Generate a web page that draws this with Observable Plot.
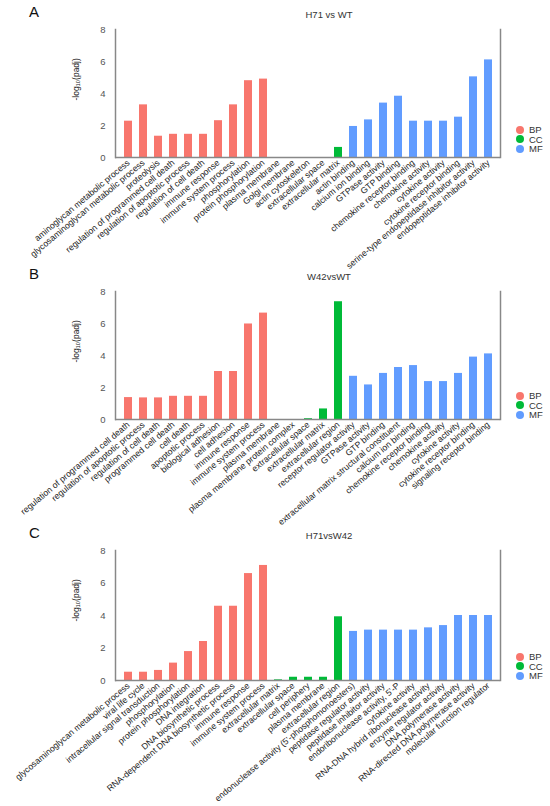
<!DOCTYPE html>
<html><head><meta charset="utf-8">
<script src="https://cdn.jsdelivr.net/npm/d3@7"></script>
<script src="https://cdn.jsdelivr.net/npm/@observablehq/plot@0.6"></script>
<style>
body{margin:0;background:#fff;font-family:Arial,"Liberation Sans",sans-serif}
#fig{width:550px;position:relative}
.panel{position:relative;width:550px}
.panel svg{overflow:visible;position:relative}
.letter{position:absolute;left:29px;top:3px;font-size:15px;color:#111;z-index:2}
.title{position:absolute;top:9px;font-size:9.5px;color:#333;transform:translateX(-50%);white-space:nowrap;z-index:2}
.legend{position:absolute;left:516px;font-size:9.5px;color:#333;z-index:2}
.legend div{height:9.5px;line-height:9.5px;display:flex;align-items:center}
.legend span.c{display:inline-block;width:8px;height:8px;border-radius:50%;margin-right:5px}
</style></head><body><div id="fig"></div>
<script>
const groupNames = ["BP", "CC", "MF"];
const groupColors = ["#F8766D", "#00BA38", "#619CFF"];
const yTicks = [0, 2, 4, 6, 8];
const yLabel = "-log\u2081\u2080(padj)";

// Panel A: H71 vs WT
const titleA = "H71 vs WT";
const termsA = ["aminoglycan metabolic process","glycosaminoglycan metabolic process","proteolysis","regulation of programmed cell death","regulation of apoptotic process","regulation of cell death","immune response","immune system process","phosphorylation","protein phosphorylation",
"plasma membrane","Golgi membrane","actin cytoskeleton","extracellular space","extracellular matrix",
"actin binding","calcium ion binding","GTPase activity","GTP binding","chemokine receptor binding","chemokine activity","cytokine activity","cytokine receptor binding","serine-type endopeptidase inhibitor activity","endopeptidase inhibitor activity"];
const valuesA = [2.27,3.29,1.33,1.45,1.45,1.45,2.3,3.29,4.8,4.9, 0,0,0,0,0.63, 1.94,2.35,3.4,3.83,2.27,2.27,2.27,2.52,5.04,6.1];
const groupA = ["BP","BP","BP","BP","BP","BP","BP","BP","BP","BP","CC","CC","CC","CC","CC","MF","MF","MF","MF","MF","MF","MF","MF","MF","MF"];

// Panel B: W42vsWT
const titleB = "W42vsWT";
const termsB = ["regulation of programmed cell death","regulation of apoptotic process","regulation of cell death","programmed cell death","cell death","apoptotic process","biological adhesion","cell adhesion","immune response","immune system process",
"plasma membrane","plasma membrane protein complex","extracellular space","extracellular matrix","extracellular region",
"receptor regulator activity","GTPase activity","GTP binding","extracellular matrix structural constituent","calcium ion binding","chemokine receptor binding","chemokine activity","cytokine activity","cytokine receptor binding","signaling receptor binding"];
const valuesB = [1.37,1.35,1.35,1.45,1.45,1.45,3.0,3.0,5.97,6.65, 0,0,0.05,0.66,7.36, 2.7,2.16,2.88,3.25,3.37,2.37,2.37,2.88,3.9,4.1];
const groupB = groupA;

// Panel C: H71vsW42
const titleC = "H71vsW42";
const termsC = ["glycosaminoglycan metabolic process","viral life cycle","intracellular signal transduction","phosphorylation","protein phosphorylation","DNA integration","DNA biosynthetic process","RNA-dependent DNA biosynthetic process","immune response","immune system process",
"extracellular matrix","extracellular space","cell periphery","plasma membrane","extracellular region",
"endonuclease activity (5'-phosphomonoesters)","peptidase regulator activity","peptidase inhibitor activity","endoribonuclease activity, 5'-P","cytokine activity","RNA-DNA hybrid ribonuclease activity","enzyme regulator activity","DNA polymerase activity","RNA-directed DNA polymerase activity","molecular function regulator"];
const valuesC = [0.51,0.51,0.62,1.07,1.78,2.4,4.57,4.57,6.58,7.08, 0.04,0.2,0.2,0.2,3.92, 3.02,3.1,3.1,3.1,3.1,3.24,3.38,4.0,4.0,4.0];
const groupC = groupA;

const panels = [
  {letter:"A", title:titleA, terms:termsA, values:valuesA, groups:groupA, height:262, marginBottom:105, legendTop:125},
  {letter:"B", title:titleB, terms:termsB, values:valuesB, groups:groupB, height:259, marginBottom:102, legendTop:129},
  {letter:"C", title:titleC, terms:termsC, values:valuesC, groups:groupC, height:285, marginBottom:126, legendTop:131}
];

const fig = document.getElementById("fig");
panels.forEach(p => {
  const data = p.terms.map((t, i) => ({term: t, value: p.values[i], group: p.groups[i]}));
  const chart = Plot.plot({
    width: 550, height: p.height,
    marginLeft: 115, marginRight: 50, marginTop: 29, marginBottom: p.marginBottom,
    style: {fontFamily: "Arial, 'Liberation Sans', sans-serif", fontSize: "8.7px", color: "#333", overflow: "visible"},
    x: {domain: p.terms, paddingInner: 0.47, paddingOuter: 0, label: null},
    y: {domain: [0, 8], label: null},
    color: {domain: groupNames, range: groupColors},
    marks: [
      Plot.barY(data, {x: "term", y: "value", fill: "group"}),
      Plot.axisY({ticks: yTicks, tickSize: 0, tickPadding: 10, label: null, fill: "#555", fontSize: 9.5}),
      Plot.axisX({tickSize: 0, tickRotate: -40, tickPadding: 4, label: null, fill: "#222", fontSize: 8.7}),
      Plot.ruleY([0], {stroke: "#888", strokeWidth: 1.5}),
      Plot.frame({anchor: "left", stroke: "#888", strokeWidth: 1.5}),
      Plot.frame({anchor: "right", stroke: "#888", strokeWidth: 1.5}),
      Plot.text([yLabel], {text: d => d, frameAnchor: "top-left", textAnchor: "start", dx: -43, dy: 71, rotate: -90, fontSize: 8.5, fill: "#222"})
    ]
  });
  const div = document.createElement("div");
  div.className = "panel";
  div.style.height = p.height + "px";
  div.appendChild(chart);
  const L = document.createElement("div"); L.className = "letter"; L.textContent = p.letter; div.appendChild(L);
  const T = document.createElement("div"); T.className = "title"; T.textContent = p.title; T.style.left = "329px"; div.appendChild(T);
  const G = document.createElement("div"); G.className = "legend"; G.style.top = p.legendTop + "px";
  groupNames.forEach((g, i) => {
    const row = document.createElement("div");
    const c = document.createElement("span"); c.className = "c"; c.style.background = groupColors[i];
    row.appendChild(c); row.appendChild(document.createTextNode(g));
    G.appendChild(row);
  });
  div.appendChild(G);
  fig.appendChild(div);
});
</script></body></html>
